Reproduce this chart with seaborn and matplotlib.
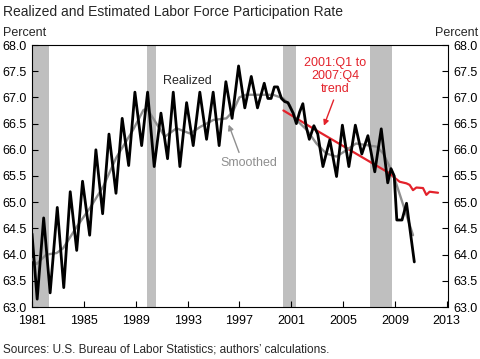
import numpy as np
import pandas as pd
import seaborn as sns
import matplotlib.pyplot as plt

# values (x = position in years on the chart axis)
realized_t = [1981.0, 1981.4, 1981.9, 1982.4, 1982.95, 1983.45, 1983.95, 1984.45, 1984.9, 1985.45,
              1985.93, 1986.45, 1986.94, 1987.48, 1987.96, 1988.46, 1988.94, 1989.46, 1989.92, 1990.43,
              1990.95, 1991.46, 1991.9, 1992.41, 1992.93, 1993.44, 1993.95, 1994.47, 1994.98, 1995.44,
              1995.96, 1996.44, 1996.94, 1997.42, 1997.92, 1998.4, 1998.92, 1999.2, 1999.45, 1999.7,
              1999.95, 2000.25, 2000.5, 2000.75, 2000.95, 2001.15, 2001.4, 2001.65, 2001.9, 2002.15,
              2002.4, 2002.75, 2003.05, 2003.45, 2003.98, 2004.5, 2004.95, 2005.45, 2005.95, 2006.45,
              2006.92, 2007.45, 2007.95, 2008.45, 2008.7, 2008.95, 2009.15, 2009.55, 2009.9, 2010.5]
realized_v = [64.4, 63.15, 64.7, 63.27, 64.9, 63.37, 65.2, 64.08, 65.4, 64.37,
              66.0, 64.78, 66.3, 65.17, 66.6, 65.7, 67.1, 66.08, 67.1, 65.68,
              66.7, 65.83, 67.1, 65.68, 66.9, 66.08, 67.1, 66.2, 67.1, 66.08,
              67.3, 66.6, 67.6, 66.8, 67.4, 66.8, 67.27, 66.98, 66.98, 67.2,
              67.2, 66.98, 66.92, 66.9, 66.8, 66.7, 66.5, 66.72, 66.88, 66.45,
              66.2, 66.46, 66.3, 65.68, 66.19, 65.49, 66.47, 65.68, 66.47, 65.92,
              66.27, 65.58, 66.4, 65.37, 65.64, 65.5, 64.66, 64.66, 64.98, 63.86]

smoothed_t = [1981.0, 1981.35, 1982.1, 1982.9, 1983.4, 1984.45, 1985.5, 1986.5, 1987.5, 1988.8,
              1989.6, 1989.9, 1990.6, 1991.25, 1992.15, 1993.2, 1994.0, 1995.0, 1996.0, 1996.5,
              1997.0, 1997.5, 1998.5, 1999.6, 2000.4, 2000.9, 2001.4, 2002.2, 2002.95, 2003.7,
              2004.5, 2005.3, 2006.0, 2006.8, 2007.6, 2008.1, 2008.85, 2009.6, 2010.4]
smoothed_v = [63.92, 63.82, 64.0, 64.03, 64.12, 64.53, 64.9, 65.3, 65.85, 66.38,
              66.76, 66.78, 66.5, 66.25, 66.41, 66.31, 66.44, 66.57, 66.6, 66.73,
              67.0, 67.05, 67.05, 67.05, 66.98, 66.85, 66.57, 66.38, 66.12, 65.93,
              65.87, 66.0, 66.12, 66.09, 66.06, 65.93, 65.55, 64.98, 64.37]

trend_t = [2000.4, 2002.4, 2004.4, 2006.6, 2008.6, 2008.86, 2009.37, 2009.89, 2010.14, 2010.4,
           2010.66, 2011.17, 2011.43, 2011.68, 2012.33]
trend_v = [66.75, 66.45, 66.16, 65.84, 65.55, 65.49, 65.39, 65.36, 65.33, 65.23,
           65.28, 65.27, 65.14, 65.2, 65.18]

recessions = [(1981.0, 1982.35), (1989.85, 1990.55), (2000.4, 2001.35), (2007.05, 2008.8)]

x_ticks = [1981, 1985, 1989, 1993, 1997, 2001, 2005, 2009, 2013]
y_ticks = [63.0, 63.5, 64.0, 64.5, 65.0, 65.5, 66.0, 66.5, 67.0, 67.5, 68.0]

RED = '#e3222b'
GRAY = '#8f8f8f'

sns.set_style('ticks')
plt.rcParams['font.family'] = ['Liberation Sans', 'DejaVu Sans']

fig = plt.figure(figsize=(4.8, 3.59), dpi=100)
ax = fig.add_axes([32 / 480, 1 - 307 / 359, 416 / 480, 262 / 359])

for a, b in recessions:
    ax.axvspan(a, b, color='#bfbfbf', lw=0, zorder=0)

realized = pd.DataFrame({'t': realized_t, 'v': realized_v})
smoothed = pd.DataFrame({'t': smoothed_t, 'v': smoothed_v})
trend = pd.DataFrame({'t': trend_t, 'v': trend_v})

sns.lineplot(data=trend, x='t', y='v', ax=ax, color=RED, lw=1.6, zorder=2)
sns.lineplot(data=smoothed, x='t', y='v', ax=ax, color=GRAY, lw=1.7, zorder=3)
sns.lineplot(data=realized, x='t', y='v', ax=ax, color='black', lw=2.0, zorder=4)

ax.set_xlim(1981, 2013.1)
ax.set_ylim(63, 68)
ax.set_xticks(x_ticks)
ax.set_yticks(y_ticks)
ax.set_yticklabels([f'{y:.1f}' for y in y_ticks])
ax.set_xlabel('')
ax.set_ylabel('')
ax.tick_params(axis='both', direction='in', length=4, width=0.8, labelsize=9, colors='black')
ax.tick_params(axis='x', pad=6)
ax.tick_params(axis='y', pad=4, right=True, labelright=True)
for s in ax.spines.values():
    s.set_visible(True)
    s.set_linewidth(0.8)
    s.set_color('black')

ax.text(1993.0, 67.31, 'Realized', fontsize=9, ha='center', va='center', zorder=5)
ax.text(1997.7, 65.75, 'Smoothed', fontsize=9, color=GRAY, ha='center', va='center', zorder=5)
ax.annotate('', xy=(1996.1, 66.53), xytext=(1997.05, 65.9),
            arrowprops=dict(arrowstyle='-|>', color=GRAY, lw=1, mutation_scale=8))
ax.text(2004.4, 67.41, '2001:Q1 to\n2007:Q4\ntrend', fontsize=9, color=RED, ha='center', va='center',
        linespacing=1.1, zorder=5)
ax.annotate('', xy=(2003.45, 66.41), xytext=(2004.35, 67.0),
            arrowprops=dict(arrowstyle='-|>', color=RED, lw=1, mutation_scale=8))

fig.text(3 / 480, 1 - 12 / 359, 'Realized and Estimated Labor Force Participation Rate',
         fontsize=10, ha='left', va='center')
fig.text(3 / 480, 1 - 33 / 359, 'Percent', fontsize=9, ha='left', va='center')
fig.text(478 / 480, 1 - 33 / 359, 'Percent', fontsize=9, ha='right', va='center')
fig.text(3 / 480, 1 - 350 / 359, "Sources: U.S. Bureau of Labor Statistics; authors\u2019 calculations.",
         fontsize=8.5, ha='left', va='center')

fig.savefig('out.png', dpi=100)
